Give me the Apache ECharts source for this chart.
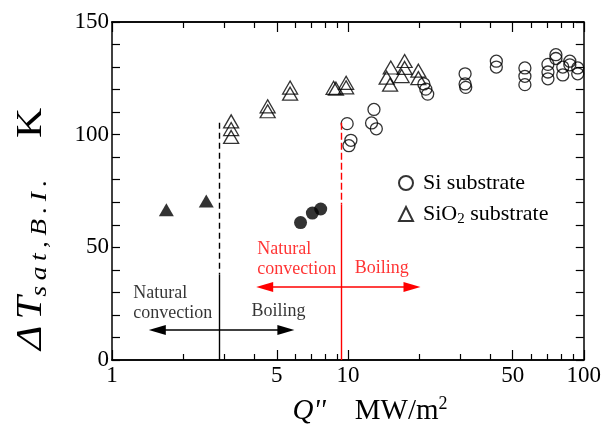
<!DOCTYPE html>
<html>
<head>
<meta charset="utf-8">
<script src="https://cdn.jsdelivr.net/npm/echarts@6/dist/echarts.min.js"></script>
<style>
  html, body { margin: 0; padding: 0; background: #fff; }
  #chart { width: 604px; height: 437px; }
</style>
</head>
<body>
<div id="chart"></div>
<script>
// Axis ticks (heat flux Q'' in MW/m2, log scale; superheat in K)
const xMajorTicks = [1, 5, 10, 50, 100];
const xMinorTicks = [2, 3, 4, 6, 7, 8, 9, 20, 30, 40, 60, 70, 80, 90];
const yMin = 0;
const yMax = 150;
const yStep = 50;

// Si substrate, boiling incipience superheat [Q'', dT]
const siSubstrate = [
  [9.93, 104.9], [10.3, 97.5], [10.1, 95.1],
  [12.9, 111.2], [12.6, 105.2], [13.2, 102.6],
  [21.0, 122.5], [21.4, 120.2], [21.8, 118.0],
  [31.4, 127.0], [31.4, 122.5], [31.6, 121.0],
  [42.6, 132.6], [42.6, 130.0],
  [56.3, 129.6], [56.3, 125.9], [56.3, 122.2],
  [70.5, 131.2], [70.5, 127.8], [70.5, 124.8],
  [76.2, 135.5], [76.2, 133.8],
  [81.5, 130.0], [81.5, 126.5],
  [87.3, 132.6], [87.3, 131.0],
  [94.3, 129.6], [94.3, 127.0]
];

// SiO2 substrate
const sio2Substrate = [
  [3.2, 105.9], [3.2, 102.5], [3.2, 99.0],
  [4.57, 112.6], [4.57, 110.4],
  [5.69, 120.9], [5.69, 118.2],
  [8.7, 120.8], [8.9, 120.4],
  [9.83, 123.0], [9.83, 121.0],
  [15.2, 129.8], [17.4, 132.7], [17.4, 129.6], [16.9, 126.0],
  [14.6, 125.3], [15.1, 122.2], [19.9, 128.4], [19.9, 125.1]
];

// Natural-convection points (filled markers)
const siNatural = [[6.3, 61.0], [7.07, 65.2], [7.67, 67.0]];
const sio2Natural = [[1.70, 66.7], [2.51, 70.6]];

// Regime boundaries and arrows
const sio2BoundaryQ = 2.86;
const siBoundaryQ = 9.34;
const boundaryTop = 105.3;
const sio2DashEnd = 38;
const siDashEnd = 69;
const sio2Arrow = { y: 13.3, from: 1.556, to: 5.46 };
const siArrow = { y: 32.4, from: 4.44, to: 18.7 };

// Regime annotations [Q'', dT, text, colour]
const annotations = [
  [1.23, 25.3, 'Natural\nconvection', '#000'],
  [3.90, 21.8, 'Boiling', '#000'],
  [4.13, 44.7, 'Natural\nconvection', '#f00'],
  [10.7, 40.9, 'Boiling', '#f00']
];

const FONT = '"Liberation Serif", "Times New Roman", serif';
const THIN = '\u2009';

function xAxisDef(position, ticks, tickLen, showLabels) {
  return {
    type: 'log', logBase: 10, min: 1, max: 100, position: position,
    axisLine: { show: true, onZero: false, lineStyle: { color: '#000', width: 1.5 } },
    axisTick: { show: true, inside: true, length: tickLen, customValues: ticks,
                lineStyle: { color: '#000', width: 1.2 } },
    axisLabel: { show: showLabels, customValues: xMajorTicks, margin: 4,
                 color: '#000', fontFamily: FONT, fontSize: 23 },
    splitLine: { show: false },
    minorTick: { show: false }
  };
}

function yAxisDef(position, showLabels) {
  return {
    type: 'value', min: yMin, max: yMax, interval: yStep, position: position,
    axisLine: { show: true, onZero: false, lineStyle: { color: '#000', width: 1.5 } },
    axisTick: { show: true, inside: true, length: 8, lineStyle: { color: '#000', width: 1.2 } },
    minorTick: { show: true, splitNumber: 5, length: 8, lineStyle: { color: '#000', width: 1.2 } },
    axisLabel: { show: showLabels, margin: 3, color: '#000', fontFamily: FONT, fontSize: 23 },
    splitLine: { show: false }
  };
}

const openStyle = { color: 'transparent', borderColor: '#000', borderWidth: 1.3 };

function vLine(q, top, bottom, color, dash) {
  return [
    { coord: [q, top], symbol: 'none',
      lineStyle: { color: color, width: 1.4, type: dash } },
    { coord: [q, bottom], symbol: 'none' }
  ];
}

function hArrow(a, color) {
  return [
    { coord: [a.from, a.y], symbol: 'triangle', symbolSize: [10, 17],
      lineStyle: { color: color, width: 1.5, type: 'solid' } },
    { coord: [a.to, a.y], symbol: 'triangle', symbolSize: [10, 17] }
  ];
}

const subscript = ['s', 'a', 't', ',', 'B', '.', 'I', '.'].join(THIN);

const chart = echarts.init(document.getElementById('chart'), null, { renderer: 'canvas' });

chart.setOption({
  animation: false,
  backgroundColor: '#fff',
  grid: { left: 112, right: 18, top: 22, bottom: 77, containLabel: false },
  xAxis: [
    xAxisDef('bottom', xMajorTicks, 10, true),
    xAxisDef('bottom', xMinorTicks, 6, false),
    xAxisDef('top', xMajorTicks, 10, false),
    xAxisDef('top', xMinorTicks, 6, false)
  ],
  yAxis: [
    yAxisDef('left', true),
    yAxisDef('right', false)
  ],
  legend: {
    orient: 'vertical', left: 393, top: 167, itemWidth: 14, itemHeight: 14, itemGap: 9,
    data: ['Si substrate', 'SiO2 substrate'],
    formatter: function (name) {
      return name === 'SiO2 substrate'
        ? '{t|SiO}{s|2}{t| substrate}'
        : '{t|Si substrate}';
    },
    textStyle: {
      color: '#000', fontFamily: FONT, fontSize: 22, padding: [0, 0, 0, 5],
      rich: {
        t: { fontFamily: FONT, fontSize: 22, lineHeight: 26, color: '#000' },
        s: { fontFamily: FONT, fontSize: 15, lineHeight: 20, verticalAlign: 'bottom', color: '#000' }
      }
    }
  },
  series: [
    {
      name: 'Si substrate', type: 'scatter', symbol: 'circle', symbolSize: 12,
      itemStyle: openStyle, data: siSubstrate
    },
    {
      name: 'SiO2 substrate', type: 'scatter', symbol: 'triangle', symbolSize: [15, 13],
      itemStyle: openStyle, data: sio2Substrate
    },
    {
      name: 'Si natural', type: 'scatter', symbol: 'circle', symbolSize: 13,
      itemStyle: { color: '#000' }, data: siNatural,
      markLine: {
        silent: true, animation: false, label: { show: false },
        data: [
          vLine(sio2BoundaryQ, boundaryTop, sio2DashEnd, '#000', [6, 4]),
          vLine(sio2BoundaryQ, sio2DashEnd, yMin, '#000', 'solid'),
          vLine(siBoundaryQ, boundaryTop, siDashEnd, '#f00', [7, 3]),
          vLine(siBoundaryQ, siDashEnd, yMin, '#f00', 'solid'),
          hArrow(sio2Arrow, '#000'),
          hArrow(siArrow, '#f00')
        ]
      }
    },
    {
      name: 'SiO2 natural', type: 'scatter', symbol: 'triangle', symbolSize: [15, 13],
      itemStyle: { color: '#000' }, data: sio2Natural
    },
    {
      name: 'Regimes', type: 'scatter', symbolSize: 0, silent: true,
      data: annotations.map(function (a) {
        return {
          value: [a[0], a[1]],
          label: {
            show: true, position: 'right', distance: 0, formatter: a[2],
            color: a[3], fontFamily: FONT, fontSize: 18, lineHeight: 20, align: 'left'
          }
        };
      })
    }
  ],
  graphic: [
    {
      type: 'text', x: 32, y: 229, rotation: Math.PI / 2, scaleX: 1.19,
      style: {
        text: '{d|\u0394}{h| }{t|T}{s|' + subscript + '}{g|    }{k|K}',
        align: 'center', verticalAlign: 'middle',
        rich: {
          d: { fontFamily: FONT, fontSize: 35, fontStyle: 'italic', lineHeight: 38, fill: '#000' },
          h: { fontFamily: FONT, fontSize: 20, lineHeight: 38 },
          t: { fontFamily: FONT, fontSize: 35, fontStyle: 'italic', lineHeight: 38, fill: '#000' },
          s: { fontFamily: FONT, fontSize: 23, fontStyle: 'italic', lineHeight: 26, verticalAlign: 'bottom', fill: '#000' },
          g: { fontFamily: FONT, fontSize: 35, lineHeight: 38 },
          k: { fontFamily: FONT, fontSize: 35, lineHeight: 38, fill: '#000' }
        }
      }
    },
    {
      type: 'text', x: 370, y: 411,
      style: {
        text: "{q|Q''}{g|    }{u|MW/m}{p|2}",
        align: 'center', verticalAlign: 'middle',
        rich: {
          q: { fontFamily: FONT, fontSize: 29, fontStyle: 'italic', lineHeight: 32, fill: '#000' },
          g: { fontFamily: FONT, fontSize: 29, lineHeight: 32 },
          u: { fontFamily: FONT, fontSize: 29, lineHeight: 32, fill: '#000' },
          p: { fontFamily: FONT, fontSize: 18, lineHeight: 18, verticalAlign: 'top', fill: '#000' }
        }
      }
    }
  ]
});
</script>
</body>
</html>
